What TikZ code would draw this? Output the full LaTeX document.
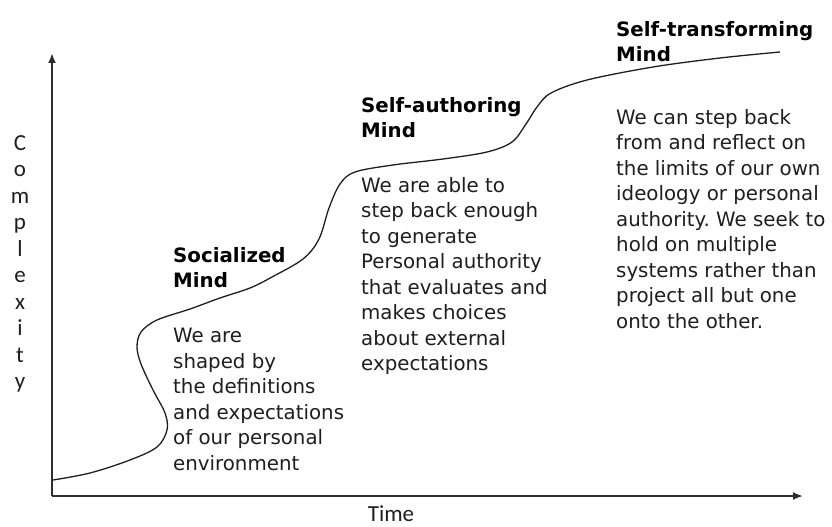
\documentclass[tikz,border=0pt]{standalone}
\usepackage{fontspec}
\setmainfont{DejaVu Sans}
\newfontfamily\labelfont{Carlito}
\usetikzlibrary{arrows.meta}
\frenchspacing

\definecolor{inkdark}{HTML}{1E1E1E}
\definecolor{axisgray}{HTML}{2E2E2E}

\tikzset{
  axisline/.style={draw=axisgray, line width=1.9pt, -{Latex[length=10pt,width=8pt]}},
  growth/.style={draw=inkdark, line width=1.3pt, line join=round},
  heading/.style={anchor=north west, inner sep=0pt, align=left, text=black,
    font=\fontsize{19.8}{25.5}\selectfont\bfseries},
  bodytext/.style={anchor=north west, inner sep=0pt, align=left, text=inkdark,
    font=\fontsize{19.8}{25.5}\selectfont},
  axislabel/.style={inner sep=0pt, text=inkdark, font=\fontsize{23}{26.5}\selectfont\labelfont}
}

\begin{document}
\begin{tikzpicture}[x=1pt, y=-1pt]
  \useasboundingbox (0,0) rectangle (832,527);

  % axes
  \coordinate (origin) at (52,496);
  \coordinate (ytip) at (52,53);
  \coordinate (xtip) at (803,496);
  \draw[axisline] (origin) -- (ytip);
  \draw[axisline] (origin) -- (xtip);

  % axis labels
  \node[axislabel, anchor=north, align=center] (ylabel) at (20,135)
    {C\\o\\m\\p\\l\\e\\x\\i\\t\\y};
  \node[axislabel, anchor=north] (xlabel) at (391,505) {Time};

  % stepped growth curve
  \draw[growth] plot[smooth, tension=0.55] coordinates {
    (53,480) (90,473) (130,460) (157,447) (167,430) (165,413) (153,390)
    (141,364) (137,347) (141,332) (157,320) (190,309) (220,298) (250,288)
    (272,277) (303,259) (319,239) (329,208) (340,184) (355,172) (393,165)
    (443,159) (487,152) (512,142) (526,124) (537,107) (551,93) (587,80)
    (653,67) (720,58) (780,52)};

  % stage headings and descriptions
  \node[heading] (socialhead) at (173,247) {Socialized\\Mind};
  \node[bodytext] (socialtext) at (173,328)
    {We are\\shaped by\\the definitions\\and expectations\\of our personal\\environment};

  \node[heading] (authorhead) at (361,97) {Self-authoring\\Mind};
  \node[bodytext] (authortext) at (361,177)
    {We are able to\\step back enough\\to generate\\Personal authority\\that evaluates and\\makes choices\\about external\\expectations};

  \node[heading] (transformhead) at (616,21) {Self-transforming\\Mind};
  \node[bodytext] (transformtext) at (616,109)
    {We can step back\\from and reflect on\\the limits of our own\\ideology or personal\\authority. We seek to\\hold on multiple\\systems rather than\\project all but one\\onto the other.};
\end{tikzpicture}
\end{document}
